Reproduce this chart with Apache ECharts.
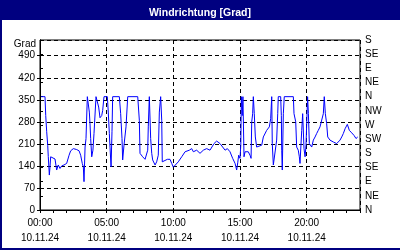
<!DOCTYPE html>
<html>
<head>
<meta charset="utf-8">
<script src="https://cdn.jsdelivr.net/npm/echarts@6/dist/echarts.min.js"></script>
<style>html,body{margin:0;padding:0;background:#fff}#c{width:400px;height:250px}</style>
</head>
<body>
<div id="c"></div>
<script>
const chartTitle = 'Windrichtung [Grad]';
const dateLabel = '10.11.24';
const yUnit = 'Grad';
const compassLabels = ['N','NE','E','SE','S','SW','W','NW','N','NE','E','SE','S'];
const hours = [
 0.08,0.375,0.43,0.5,0.58,0.62,0.7,0.75,0.8,0.9,1.125,1.25,1.37,1.5,1.63,1.8,2.0,2.18,2.3,2.5,
 2.75,2.93,3.05,3.17,3.25,3.3,3.38,3.45,3.55,3.62,3.7,3.75,3.8,3.88,3.97,4.05,4.2,4.3,4.4,4.5,
 4.63,4.7,4.8,5.05,5.12,5.2,5.25,5.33,5.4,5.45,5.95,6.05,6.15,6.2,6.3,6.45,6.58,7.33,7.45,7.5,
 7.7,7.88,8.0,8.08,8.12,8.2,8.3,8.38,8.45,8.63,8.75,8.87,8.95,9.05,9.13,9.17,9.3,9.55,9.75,9.88,
 10.0,10.13,10.37,10.63,10.88,11.2,11.38,11.5,11.75,12.0,12.25,12.5,12.75,12.88,13.05,13.25,13.5,13.7,13.88,14.05,
 14.25,14.45,14.63,14.75,14.83,14.9,15.0,15.06,15.1,15.17,15.22,15.3,15.38,15.5,15.62,15.75,15.83,15.88,15.95,16.0,
 16.07,16.15,16.25,16.63,16.75,17.0,17.2,17.3,17.38,17.42,17.5,17.63,17.75,17.83,17.87,18.05,18.1,18.13,18.17,18.25,
 18.32,19.0,19.05,19.18,19.25,19.37,19.45,19.5,19.63,19.7,19.8,19.88,19.95,20.07,20.13,20.2,20.38,20.5,20.63,20.75,
 20.87,21.0,21.13,21.25,21.32,21.4,21.5,21.58,21.75,22.0,22.25,22.37,22.5,22.63,22.75,22.88,23.05,23.2,23.38,23.55,
 23.7,23.83
];
const direction = [
 360,360,300,250,205,170,111,137,169,164,162,127,143,132,140,143,148,174,188,195,
 192,188,174,148,137,90,200,227,360,360,311,274,227,169,190,243,360,360,327,293,
 300,316,360,360,311,243,200,137,250,360,360,306,227,159,206,264,360,360,285,180,
 169,161,164,190,264,360,227,180,159,143,153,174,311,360,285,153,159,161,161,148,
 136,140,153,169,185,190,195,185,190,180,190,195,190,185,211,219,211,200,190,195,
 185,164,148,127,150,174,164,206,360,300,360,169,185,190,185,174,164,280,306,360,
 306,232,200,206,232,253,264,290,360,211,143,143,222,306,360,360,300,190,127,306,
 360,360,306,280,200,190,169,148,253,306,195,169,206,360,306,211,200,222,232,243,
 253,264,264,306,360,306,274,232,222,216,211,206,222,232,243,258,272,253,245,237,
 227,232
];
const seriesData = hours.map((h, i) => [h, direction[i]]);
const fontFamily = 'Liberation Sans';
const chart = echarts.init(document.getElementById('c'), null, {renderer: 'canvas'});
const pad = n => (n < 10 ? '0' : '') + n;
chart.setOption({
  animation: false,
  backgroundColor: '#fff',
  title: {
    text: chartTitle, left: 'center', top: 3,
    textStyle: {color: '#fff', fontSize: 10.5, fontWeight: 'bold', fontFamily: fontFamily}
  },
  graphic: [
    {type: 'rect', z: -10, shape: {x: 0, y: 0, width: 400, height: 20}, style: {fill: '#000080'}},
    {type: 'rect', z: -10, shape: {x: 0, y: 0, width: 2, height: 250}, style: {fill: '#000080'}},
    {type: 'rect', z: -10, shape: {x: 0, y: 248, width: 400, height: 2}, style: {fill: '#000080'}}
  ],
  grid: {left: 40, right: 40, top: 40, bottom: 40, show: true, borderColor: '#000', borderWidth: 1, backgroundColor: 'transparent'},
  xAxis: [
    {
      type: 'value', min: 0, max: 24, interval: 5,
      axisLine: {show: true, lineStyle: {color: '#000', width: 1}},
      axisTick: {show: false},
      splitLine: {show: true, lineStyle: {color: '#000', type: [4, 3], width: 1}},
      axisLabel: {
        showMaxLabel: false, margin: 6, lineHeight: 15, color: '#000',
        fontSize: 10, fontFamily: fontFamily,
        formatter: v => pad(v) + ':00\n' + dateLabel
      }
    },
    {
      type: 'value', min: 0, max: 24, interval: 1, position: 'bottom',
      axisLine: {show: false},
      axisTick: {show: true, length: 3, lineStyle: {color: '#000'}},
      axisLabel: {show: false},
      splitLine: {show: false}
    }
  ],
  yAxis: [
    {
      type: 'value', min: 0, max: 540, interval: 70, position: 'left',
      name: yUnit, nameLocation: 'end', nameGap: -4,
      nameTextStyle: {color: '#000', fontSize: 10, fontFamily: fontFamily, align: 'right', verticalAlign: 'middle', padding: [0, 4, 0, 0]},
      axisLine: {show: true, lineStyle: {color: '#000'}},
      axisTick: {show: true, length: 3, lineStyle: {color: '#000'}},
      axisLabel: {showMaxLabel: false, margin: 5, color: '#000', fontSize: 10, fontFamily: fontFamily},
      splitLine: {show: true, lineStyle: {color: '#000', type: [4, 3], width: 1}}
    },
    {
      type: 'value', min: 0, max: 540, interval: 45, position: 'right',
      axisLine: {show: true, lineStyle: {color: '#000'}},
      axisTick: {show: true, length: 3, lineStyle: {color: '#000'}},
      axisLabel: {
        margin: 5, color: '#000', fontSize: 10, fontFamily: fontFamily,
        formatter: v => compassLabels[Math.round(v / 45)]
      },
      splitLine: {show: false}
    }
  ],
  series: [{
    type: 'line', xAxisIndex: 0, yAxisIndex: 0,
    data: seriesData, showSymbol: false, symbol: 'none',
    lineStyle: {color: '#0000ff', width: 1}
  }]
});
</script>
</body>
</html>
